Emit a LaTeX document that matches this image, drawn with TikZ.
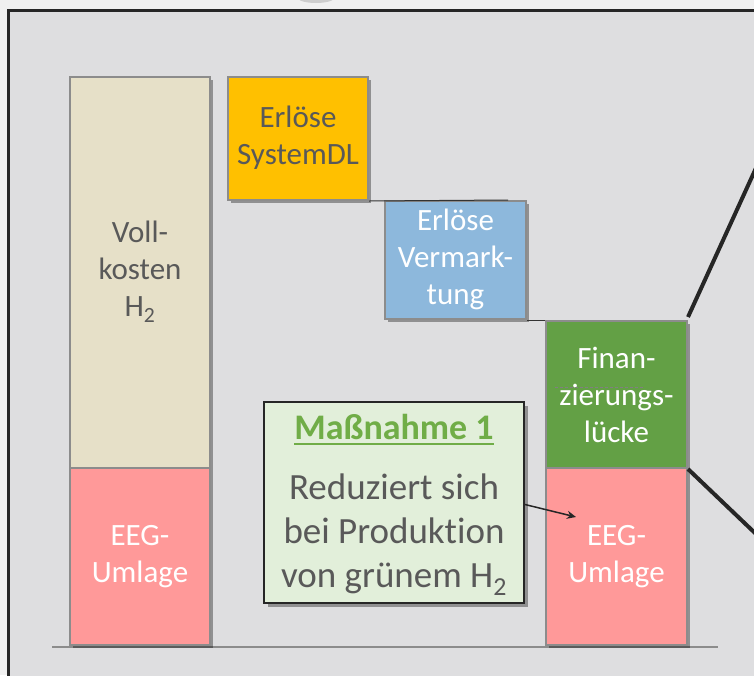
\documentclass[tikz,border=0pt]{standalone}
\usepackage{fontspec}
\setmainfont{Carlito}[Ligatures=NoCommon]
\usetikzlibrary{shadows,arrows.meta}
\definecolor{outerbg}{HTML}{F0F0F0}
\definecolor{innerbg}{HTML}{DEDEE0}
\definecolor{beige}{HTML}{E6E0C8}
\definecolor{pinkc}{HTML}{FF9999}
\definecolor{goldc}{HTML}{FFC000}
\definecolor{bluec}{HTML}{8DB8DC}
\definecolor{greenc}{HTML}{63A045}
\definecolor{lightgreen}{HTML}{E2EFDA}
\definecolor{titlegreen}{HTML}{70AD47}
\definecolor{txtgray}{HTML}{595959}
\definecolor{edgegray}{HTML}{8C8C8C}
\tikzset{
  bar/.style={draw=edgegray, line width=2pt, minimum width=#1, inner sep=0pt, align=center,
     drop shadow={shadow xshift=3pt, shadow yshift=-3pt, opacity=0.35, fill=black}},
  bartext/.style={font=\fontsize{31}{37}\selectfont},
  note/.style={draw=black!85, line width=2pt, fill=lightgreen, inner sep=0pt,
     minimum width=260pt, minimum height=201pt,
     drop shadow={shadow xshift=4pt, shadow yshift=-4pt, opacity=0.35, fill=black}},
  notetext/.style={inner sep=0pt, align=center, text=txtgray, font=\fontsize{37}{44}\selectfont},
  notetitle/.style={inner sep=0pt, text=titlegreen, font=\fontsize{36}{44}\selectfont\bfseries},
  conn/.style={draw=black!80, line width=1pt},
  zoomline/.style={draw=black!85, line width=4pt},
}
\begin{document}
\begin{tikzpicture}[x=1pt,y=-1pt]
\useasboundingbox (0,0) rectangle (754,675);
\fill[outerbg] (0,0) rectangle (754,675);
\fill[black!40, opacity=0.4] (316,-2) ellipse (18 and 5);
\fill[innerbg] (8,10) rectangle (760,680);
\draw[line width=3pt, black!85] (8,680) -- (8,10) -- (760,10);
% baseline
\coordinate (b1) at (52,647);
\coordinate (b2) at (718,647);
\draw[draw=edgegray, line width=2pt] (b1) -- (b2);
% left bar
\node[bar=140pt, fill=beige, minimum height=391pt, text=txtgray, bartext] (vk) at (140,272.5) {\raisebox{-3pt}{\begin{tabular}{@{}c@{}}Voll-\\kosten\\H\textsubscript{2}\end{tabular}}};
\node[bar=140pt, fill=pinkc, minimum height=177pt, text=white, bartext] (eeg1) at (140,556.5) {\raisebox{-8pt}{\begin{tabular}{@{}c@{}}EEG-\\Umlage\end{tabular}}};
% revenue boxes
\node[bar=140pt, fill=goldc, minimum height=123pt, text=txtgray, bartext] (sys) at (298,138.5) {\raisebox{-3pt}{\begin{tabular}{@{}c@{}}Erlöse\\SystemDL\end{tabular}}};
\node[bar=141pt, fill=bluec, minimum height=118pt, text=white, bartext] (verm) at (455.5,260) {\raisebox{-4pt}{\begin{tabular}{@{}c@{}}Erlöse\\Vermark-\\tung\end{tabular}}};
\node[bar=141pt, fill=greenc, minimum height=147pt, text=white, bartext] (fin) at (616.5,394.5) {Finan-\\zierungs-\\lücke};
\node[bar=141pt, fill=pinkc, minimum height=177pt, text=white, bartext] (eeg2) at (616.5,556.5) {\raisebox{-8pt}{\begin{tabular}{@{}c@{}}EEG-\\Umlage\end{tabular}}};
% dashed artifact
\coordinate (d1) at (555,387);
\coordinate (d2) at (643,387);
\draw[gray, line width=0.6pt, dash pattern=on 3pt off 2pt] (d1) -- (d2);
% connectors between steps
\coordinate (c1) at (508,200);
\draw[conn] (sys.south east) -- (c1);
\draw[conn] (verm.south east) -- (fin.north west);
% zoom lines
\coordinate (z1) at (756,168);
\coordinate (z2) at (756,534);
\draw[zoomline] ([yshift=3pt]fin.north east) -- (z1);
\draw[zoomline] (fin.south east) -- (z2);
% note
\node[note] (mass) at (394,502.5) {};
\node[notetitle, anchor=base] (mt) at (394,439) {Maßnahme 1};
\draw[titlegreen, line width=2.5pt] ([yshift=-5pt]mt.base west) -- ([yshift=-5pt]mt.base east);
\node[notetext] (mb) at (394,535) {Reduziert sich\\bei Produktion\\von grünem H\textsubscript{2}};
\coordinate (arr) at (576,517);
\draw[black!85, line width=1.5pt, -{Stealth[length=9pt,width=8pt]}] ([yshift=-2pt]mass.east) -- (arr);
\end{tikzpicture}
\end{document}
